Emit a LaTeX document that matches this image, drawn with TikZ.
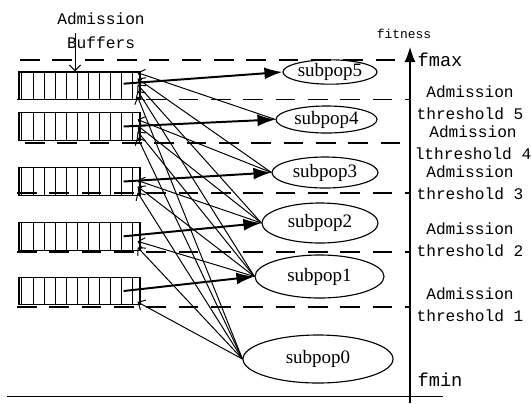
\documentclass[tikz,border=0pt]{standalone}
\usepackage{fontspec}
\setmainfont{Liberation Serif}
\newfontfamily\labelfont{Liberation Mono}
\usepackage{tikz}
\usetikzlibrary{shapes,arrows.meta,calc}

\tikzset{
  buffer/.style={draw, line width=0.8pt, minimum width=3.025cm, minimum height=0.6875cm, inner sep=0pt},
  subpop/.style={draw, ellipse, line width=0.8pt, inner sep=0pt, font=\fontsize{13.5}{16}\selectfont},
  thrlabel/.style={align=center, inner sep=0pt, font=\labelfont\fontsize{11.5}{15.6}\selectfont},
  dashline/.style={line width=0.8pt, dash pattern=on 14pt off 9pt},
  thinarrow/.style={line width=0.7pt, -{Straight Barb[length=4pt,width=8pt]}},
  thickarrow/.style={line width=1.4pt, -{Latex[length=12.8pt,width=8.5pt]}}
}

\begin{document}
\begin{tikzpicture}[x=0.025cm, y=-0.025cm]
\useasboundingbox (0,0) rectangle (531,403);

% threshold lines
\draw[dashline] (20,60) -- (395,60);
\draw[dashline] (17,99.5) -- (410,99.5);
\draw[dashline] (25,143) -- (410,143);
\draw[dashline] (17,193) -- (410,193);
\draw[dashline] (17,252) -- (410,252);
\draw[dashline] (17,307) -- (410,307);

% fitness axis
\draw (7,396) -- (443,396);
\coordinate (axisbot) at (410,403);
\coordinate (axistop) at (410,47);
\draw[line width=0.8pt, -{Latex[length=10.7pt,width=7.8pt]}] (axisbot) -- (axistop);
\node[font=\labelfont\fontsize{9.2}{11}\selectfont] (fitness) at (404,34) {fitness};
\node[font=\labelfont\fontsize{13.3}{16}\selectfont] (fmax) at (440,60) {fmax};
\node[font=\labelfont\fontsize{13.3}{16}\selectfont] (fmin) at (440,380) {fmin};

\node[thrlabel] (thr5) at (470,102.5) {Admission\\threshold 5};
\node[thrlabel] (thr4) at (473,142.5) {Admission\\lthreshold 4};
\node[thrlabel] (thr3) at (470,183) {Admission\\threshold 3};
\node[thrlabel] (thr2) at (470,240) {Admission\\threshold 2};
\node[thrlabel] (thr1) at (470,305) {Admission\\threshold 1};

% buffers
\node[buffer] (buf1) at (79.5,85.7) {};
\node[buffer] (buf2) at (79.5,126.5) {};
\node[buffer] (buf3) at (79.5,181.5) {};
\node[buffer] (buf4) at (79.5,236.3) {};
\node[buffer] (buf5) at (79.5,291) {};
\foreach \b in {1,...,5}
  \foreach \x in {3.5,15,26,37,48,59,70,81,92,103,114}
    \draw[line width=0.7pt] ($(buf\b.north west)+(\x,0)$) -- ($(buf\b.south west)+(\x,0)$);

\node[thrlabel, font=\labelfont\fontsize{11.5}{17}\selectfont] (buflabel) at (101,31) {Admission\\Buffers};
\coordinate (bufarrow) at (75,33);
\draw[thinarrow] (bufarrow) -- (bufarrow |- buf1.north);

% subpopulations
\node[subpop, minimum width=2.35cm, minimum height=0.55cm] (sub5) at (330,72) {subpop5};
\node[subpop, minimum width=2.525cm, minimum height=0.675cm] (sub4) at (326.5,119.5) {subpop4};
\node[subpop, minimum width=2.65cm, minimum height=0.775cm] (sub3) at (325,172.5) {subpop3};
\node[subpop, minimum width=2.9cm, minimum height=1cm] (sub2) at (320,223) {subpop2};
\node[subpop, minimum width=3.225cm, minimum height=1.075cm] (sub1) at (319.5,276.5) {subpop1};
\node[subpop, minimum width=3.75cm, minimum height=1.2cm] (sub0) at (318,359) {subpop0};

% admission
\draw[thickarrow] ($(buf1.east)+(-17,-2)$) -- (sub5.west);
\draw[thickarrow] ($(buf2.east)+(-17,0)$) -- (sub4.west);
\draw[thickarrow] ($(buf3.east)+(-17,0)$) -- (sub3.west);
\draw[thickarrow] ($(buf4.east)+(-17,0)$) -- (sub2.west);
\draw[thickarrow] ($(buf5.east)+(-17,0)$) -- (sub1.west);

% migration to higher buffers
\foreach \s/\last in {4/1,3/2,2/3,1/4,0/5}
  \foreach \j in {1,...,\last}
    \draw[thinarrow] (sub\s.west) -- ($(buf\j.east)+(-3,{-13+6*(4-\s)})$);
\end{tikzpicture}
\end{document}
